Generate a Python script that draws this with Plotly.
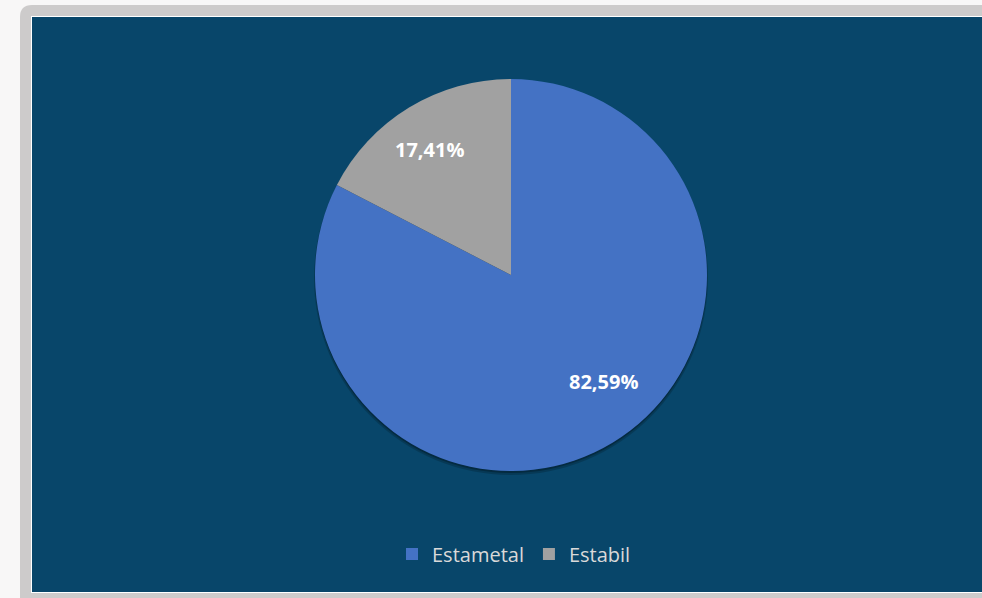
import math
import plotly.graph_objects as go

labels = ["Estametal", "Estabil"]
values = [82.59, 17.41]
colors = ["#4472C4", "#A1A1A1"]

W, H = 982, 598

def px(x):
    return x / W

def py(y):
    return 1 - y / H

texts = [f"{v:.2f}".replace(".", ",") + "%" for v in values]

cx, cy, R = 511, 275, 196

fig = go.Figure()
fig.add_trace(go.Pie(
    labels=labels, values=values, sort=False, direction="clockwise", rotation=0,
    marker=dict(colors=colors, line=dict(width=0)),
    textinfo="none",
    domain=dict(x=[px(cx - R), px(cx + R)], y=[py(cy + R), py(cy - R)]),
    hoverinfo="label+percent",
))

# data labels, placed along each slice's mid angle (Excel-like placement)
total = sum(values)
label_cfg = [(0.72, -9.4), (0.763, -1.9)]  # (radius fraction, angle tweak in degrees)
annotations = []
start = 0.0
for v, t, (rf, tweak) in zip(values, texts, label_cfg):
    mid = start + v / total * 360 / 2 + tweak
    start += v / total * 360
    ang = math.radians(mid)
    lx = cx + rf * R * math.sin(ang)
    ly = cy - rf * R * math.cos(ang)
    annotations.append(dict(x=px(lx), y=py(ly), xref="paper", yref="paper", text=t,
                            showarrow=False, xanchor="center", yanchor="middle",
                            font=dict(family="Open Sans", size=20, color="white", weight="bold")))

r = 12
x0, y0 = 20, 5
outer_path = (f"M {px(x0)},{py(H+5)} L {px(x0)},{py(y0+r)} Q {px(x0)},{py(y0)} {px(x0+r)},{py(y0)} "
              f"L {px(W+5)},{py(y0)} L {px(W+5)},{py(H+5)} Z")

shapes = [
    dict(type="path", xref="paper", yref="paper", path=outer_path,
         fillcolor="#CDCBCB", line=dict(width=0), layer="below"),
    dict(type="rect", xref="paper", yref="paper", x0=px(31), x1=px(W + 5), y0=py(593), y1=py(16),
         fillcolor="#FFFFFF", line=dict(width=0), layer="below"),
    dict(type="rect", xref="paper", yref="paper", x0=px(32), x1=px(W + 5), y0=py(592), y1=py(17),
         fillcolor="#08466A", line=dict(width=0), layer="below"),
    # soft shadow beneath the pie
    dict(type="circle", xref="paper", yref="paper", x0=px(cx - R - 1), x1=px(cx + R + 1),
         y0=py(cy + R + 4), y1=py(cy - R + 2), fillcolor="rgba(0,0,0,0.18)", line=dict(width=0), layer="below"),
    dict(type="circle", xref="paper", yref="paper", x0=px(cx - R), x1=px(cx + R),
         y0=py(cy + R + 2), y1=py(cy - R + 1), fillcolor="rgba(0,0,0,0.25)", line=dict(width=0), layer="below"),
]

fig.update_layout(
    width=W, height=H,
    margin=dict(l=0, r=0, t=0, b=0),
    paper_bgcolor="#F8F7F7",
    plot_bgcolor="#F8F7F7",
    shapes=shapes,
    annotations=annotations,
    showlegend=True,
    legend=dict(orientation="h", x=px(514), xanchor="center", y=py(554), yanchor="middle",
                font=dict(family="Open Sans", size=20, color="#D9D9D9"),
                bgcolor="rgba(0,0,0,0)", itemwidth=30, tracegroupgap=0),
)

fig.write_html("out.html", config={"displayModeBar": False},
               post_script="document.body.style.margin='0';document.body.style.overflow='hidden';")
